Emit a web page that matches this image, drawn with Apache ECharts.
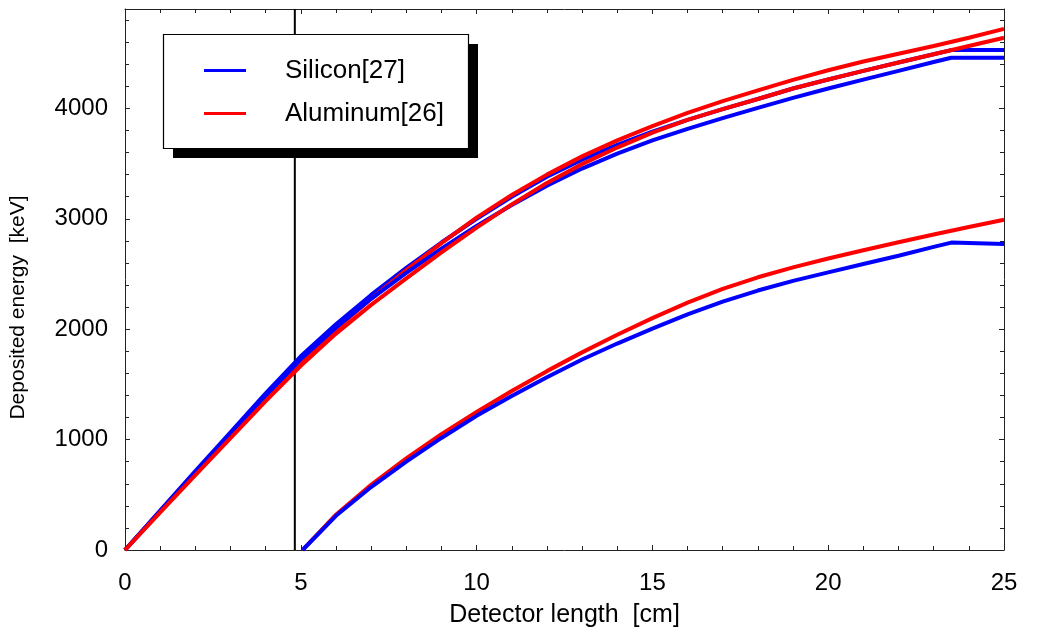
<!DOCTYPE html>
<html><head><meta charset="utf-8">
<script src="https://cdn.jsdelivr.net/npm/echarts@6/dist/echarts.min.js"></script>
<style>html,body{margin:0;padding:0;background:#fff}#c{width:1047px;height:633px}</style>
</head><body><div id="c"></div>
<script>
// Upper group (start at 0 cm)
const xAl = [0,1,2,3,4,5,6,7,8,9,10,11,12,13,14,15,16,17,18,19,20,21,22,23,24,25];
const alTopY = [0,347,693,1035,1376,1703,2000,2275,2535,2780,3010,3215,3400,3565,3710,3840,3960,4065,4163,4258,4345,4425,4495,4565,4640,4720];
const alSecondY = [0,340,679,1014,1348,1668,1960,2220,2460,2695,2920,3130,3325,3495,3645,3780,3895,3993,4085,4180,4262,4340,4415,4490,4565,4640];
const xSi = [0,1,2,3,4,5,6,7,8,9,10,11,12,13,14,15,16,17,18,19,20,21,22,23,23.5,24,25];
const siTopY = [0,357,714,1066,1418,1754,2045,2310,2555,2785,3000,3200,3380,3535,3670,3790,3895,3993,4085,4180,4262,4340,4415,4490,4528,4528,4528];
const siBottomY = [0,352,704,1050,1397,1729,2015,2275,2510,2730,2935,3125,3300,3455,3590,3710,3815,3912,4005,4095,4180,4260,4340,4420,4458,4458,4458];
// Lower group (start at ~5 cm)
const xAlLow = [5.05,6,7,8,9,10,11,12,13,14,15,16,17,18,19,20,21,22,23,24,25];
const alLowY = [0,320,590,830,1050,1250,1440,1620,1790,1950,2100,2240,2365,2470,2560,2640,2715,2787,2857,2925,2991];
const xSiLow = [5.05,6,7,8,9,10,11,12,13,14,15,16,17,18,19,20,21,22,23,23.5,25];
const siLowY = [0,310,570,800,1015,1215,1395,1565,1725,1870,2005,2135,2250,2350,2438,2515,2590,2665,2745,2784,2772];
// Vertical marker line
const cutX = 4.83;
const seriesNames = ['Silicon[27]','Aluminum[26]'];
const xTitle = 'Detector length  [cm]';
const yTitle = 'Deposited energy  [keV]';

const FONT = 'Liberation Sans, Arial, Helvetica, sans-serif';
const BLUE = '#0000ff', RED = '#ff0000';
function pts(xs, ys){ return xs.map((x,i)=>[x, ys[i]]); }
function lineSeries(name, color, data, z){
  return {type:'line', name, data, symbol:'none', smooth:false, z,
    lineStyle:{color, width:4}, itemStyle:{color}, emphasis:{disabled:true}, silent:true};
}
const chart = echarts.init(document.getElementById('c'), null, {renderer:'canvas'});
const axisCommon = {
  type:'value',
  axisLine:{show:true, onZero:false, lineStyle:{color:'#222', width:1}},
  axisTick:{show:true, inside:true, length:5, lineStyle:{color:'#222'}},
  minorTick:{show:true, splitNumber:5, length:4, lineStyle:{color:'#222'}},
  splitLine:{show:false}, minorSplitLine:{show:false}
};
chart.setOption({
  animation:false,
  backgroundColor:'#fff',
  grid:{left:123, right:43, top:9, bottom:81, containLabel:false},
  xAxis:[
    Object.assign({}, axisCommon, {position:'bottom', min:0, max:25, interval:5,
      axisLabel:{show:true, fontSize:24, color:'#000', fontFamily:FONT, margin:21, formatter:v=>String(v)},
      name:xTitle, nameLocation:'middle', nameGap:53,
      nameTextStyle:{fontSize:25, color:'#000', fontFamily:FONT}}),
    Object.assign({}, axisCommon, {position:'top', min:0, max:25, interval:5, axisLabel:{show:false}})
  ],
  yAxis:[
    Object.assign({}, axisCommon, {position:'left', min:0, max:4900, interval:1000,
      axisLabel:{show:true, fontSize:24, color:'#000', fontFamily:FONT, margin:17, showMaxLabel:false, formatter:v=>String(v)},
      name:yTitle, nameLocation:'middle', nameGap:96,
      nameTextStyle:{fontSize:21, color:'#000', fontFamily:FONT, padding:[0,56,0,0]}}),
    Object.assign({}, axisCommon, {position:'right', min:0, max:4900, interval:1000, axisLabel:{show:false}})
  ],
  legend:{
    show:true, orient:'vertical', left:204, top:56, padding:0, itemWidth:42, itemHeight:3, itemGap:14,
    icon:'rect', selectedMode:false, z:30,
    data:seriesNames,
    textStyle:{fontSize:26, color:'#000', fontFamily:FONT, lineHeight:29, padding:[0,0,0,34]}
  },
  graphic:[
    {type:'rect', z:20, shape:{x:173, y:44, width:305, height:114}, style:{fill:'#000'}},
    {type:'rect', z:21, shape:{x:163.5, y:34.5, width:305, height:114}, style:{fill:'#fff', stroke:'#000', lineWidth:1.2}}
  ],
  series:[
    {type:'line', name:'cut', data:[[cutX,0],[cutX,4900]], symbol:'none', z:1,
      lineStyle:{color:'#000', width:2}, silent:true, legendHoverLink:false},
    lineSeries(seriesNames[0], BLUE, pts(xSi, siTopY), 2),
    lineSeries(seriesNames[1], RED, pts(xAl, alTopY), 3),
    lineSeries(seriesNames[0], BLUE, pts(xSi, siBottomY), 4),
    lineSeries(seriesNames[1], RED, pts(xAl, alSecondY), 5),
    lineSeries(seriesNames[1], RED, pts(xAlLow, alLowY), 6),
    lineSeries(seriesNames[0], BLUE, pts(xSiLow, siLowY), 7)
  ]
});
</script></body></html>
